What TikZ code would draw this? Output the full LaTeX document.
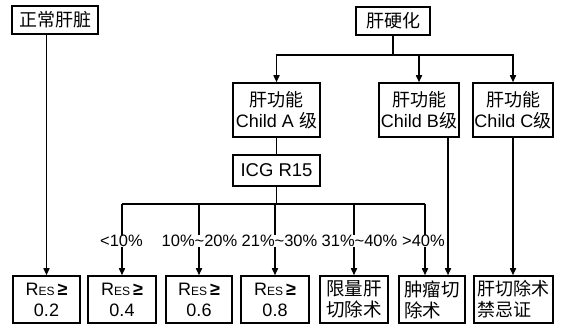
\documentclass[tikz,border=0pt]{standalone}
\usepackage{fontspec}
\setmainfont{Liberation Sans}
\newfontfamily\cjk{Noto Sans CJK SC}
\usetikzlibrary{arrows.meta}
\newcommand\resval[1]{R{\fontsize{12}{12}\selectfont ES}\,{\bfseries ≥}\\#1}
\begin{document}
\begin{tikzpicture}[x=1pt,y=-1pt,
  box/.style={draw, line width=1.5pt, inner sep=0pt, align=center, font=\fontsize{18}{21}\selectfont},
  bot/.style={box, minimum height=47pt},
  conn/.style={line width=1.5pt},
  arr/.style={conn, -{Triangle[length=7pt,width=6pt]}},
  lab/.style={fill=white, inner sep=0.5pt, font=\fontsize{16.5}{18}\selectfont}]
\useasboundingbox (0,0) rectangle (564,328);
\fill[white] (0,0) rectangle (564,328);
% top boxes
\node[box, minimum width=86pt, minimum height=28pt] (n0) at (55,20) {\cjk 正常肝脏};
\node[box, minimum width=74pt, minimum height=28pt] (cir) at (393,21) {\cjk 肝硬化};
\node[box, minimum width=87pt, minimum height=54pt] (ca) at (276.5,110) {{\cjk 肝功能}\\Child A {\cjk 级}};
\node[box, minimum width=80pt, minimum height=54pt] (cb) at (419,110) {{\cjk 肝功能}\\Child B{\cjk 级}};
\node[box, minimum width=80pt, minimum height=54pt] (cc) at (513,110) {{\cjk 肝功能}\\Child C{\cjk 级}};
\node[box, minimum width=87pt, minimum height=31pt, font=\fontsize{18.5}{20}\selectfont] (icg) at (276.5,170.5) {ICG R15};
% bottom boxes
\node[bot, minimum width=67pt] (b1) at (46.5,299.5) {\resval{0.2}};
\node[bot, minimum width=68pt] (b2) at (122,299.5) {\resval{0.4}};
\node[bot, minimum width=66pt] (b3) at (199,299.5) {\resval{0.6}};
\node[bot, minimum width=68pt] (b4) at (275,299.5) {\resval{0.8}};
\node[bot, minimum width=68pt, font=\fontsize{18.5}{21}\selectfont\cjk] (b5) at (354,299.5) {限量肝\\切除术};
\node[bot, minimum width=66pt, align=left, font=\fontsize{18.5}{21}\selectfont\cjk] (b6) at (432,299.5) {肿瘤切\\除术};
\node[bot, minimum width=79pt, align=left, font=\fontsize{18}{21}\selectfont\cjk] (b7) at (513.5,299.5) {肝切除术\\禁忌证};
% connectors top
\coordinate (h1) at (393,55);
\draw[conn] (cir.south) -- (h1);
\draw[arr] (h1) -| (ca.north);
\draw[arr] (h1) -| (cc.north);
\draw[arr] (cb.north|-h1) -- (cb.north);
\draw[conn] (ca.south) -- (icg.north);
\draw[arr] (b1.north|-n0.south) -- (b1.north);
% ICG branches
\coordinate (h2) at (276.5,204);
\coordinate (t6a) at ([xshift=-7pt]b6.north);
\coordinate (t6b) at ([xshift=16pt]b6.north);
\draw[conn] (icg.south) -- (h2);
\draw[conn] (b2.north|-h2) -- (t6a|-h2);
\foreach \b in {b2,b3,b4,b5} \draw[arr] (\b.north|-h2) -- (\b.north);
\draw[arr] (t6a|-h2) -- (t6a);
\node[lab] (l1) at (121.5,241) {<10\%};
\node[lab] (l2) at (199.5,241) {10\%\textasciitilde 20\%};
\node[lab] (l3) at (279.5,241) {21\%\textasciitilde 30\%};
\node[lab] (l4) at (359.5,241) {31\%\textasciitilde 40\%};
\node[lab] (l5) at (423.5,241) {>40\%};
% Child B and C down
\draw[arr] (t6b|-cb.south) -- (t6b);
\draw[arr] (cc.south) -- (cc.south|-b7.north);
\end{tikzpicture}
\end{document}
